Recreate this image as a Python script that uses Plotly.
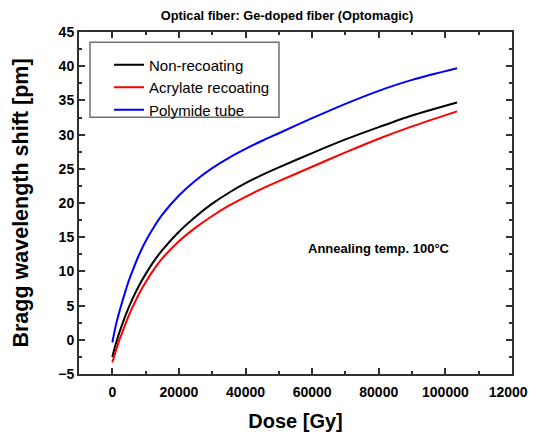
import plotly.graph_objects as go

dose = [0, 1000, 2000, 3000, 4000, 5000, 6000, 8000, 10000, 12500, 15000, 20000,
        25000, 30000, 35000, 40000, 45000, 50000, 60000, 70000, 80000, 90000, 103500]

non_recoating = [-2.5, -0.7, 0.9, 2.3, 3.6, 4.8, 5.9, 7.9, 9.6, 11.5, 13.1, 15.8,
                 18.0, 19.9, 21.5, 22.9, 24.1, 25.2, 27.3, 29.3, 31.1, 32.8, 34.7]
acrylate = [-3.3, -1.7, -0.2, 1.1, 2.4, 3.6, 4.7, 6.7, 8.4, 10.3, 11.9, 14.4,
            16.4, 18.1, 19.6, 20.9, 22.1, 23.2, 25.3, 27.4, 29.4, 31.2, 33.4]
polymide = [-0.4, 2.0, 3.9, 5.6, 7.2, 8.7, 10.0, 12.4, 14.4, 16.5, 18.3, 21.1,
            23.3, 25.1, 26.6, 27.9, 29.1, 30.2, 32.4, 34.5, 36.4, 38.0, 39.7]

series_names = ["Non-recoating", "Acrylate recoating", "Polymide tube"]
series_colors = ["#000000", "#ff0000", "#0000ff"]
series_values = [non_recoating, acrylate, polymide]

title_text = "Optical fiber: Ge-doped fiber (Optomagic)"
x_title = "Dose [Gy]"
y_title = "Bragg wavelength shift [pm]"
note_text = "Annealing temp. 100°C"

FONT = "Liberation Sans, Arial, sans-serif"

fig = go.Figure()
for name, color, vals in zip(series_names, series_colors, series_values):
    fig.add_trace(go.Scatter(x=dose, y=vals, mode="lines", name=name,
                             line=dict(color=color, width=2, shape="spline", smoothing=0.8)))

axis_common = dict(showline=True, linecolor="#303030", linewidth=2, mirror="ticks",
                   ticks="inside", ticklen=6, tickwidth=1.5, tickcolor="#303030",
                   showgrid=False, zeroline=False, automargin=False,
                   ticklabeloverflow="allow",
                   tickfont=dict(family=FONT, size=14, color="#000000", weight="bold"))

fig.update_layout(
    width=536, height=434,
    margin=dict(l=71, r=32, t=24, b=68),
    paper_bgcolor="white", plot_bgcolor="white",
    title=dict(text="<b>" + title_text + "</b>", x=0.5205, xanchor="center", y=0.9816, yanchor="middle",
               font=dict(family=FONT, size=12.8, color="#000000")),
    xaxis=dict(range=[-10000, 120000], tick0=0, dtick=20000, tickformat="d",
               ticklabelstandoff=4,
               minor=dict(ticks="inside", ticklen=3, dtick=10000, tickcolor="#303030", tickwidth=1.5),
               title=dict(text="<b>" + x_title + "</b>", font=dict(family=FONT, size=20, color="#000000"),
                          standoff=15),
               **axis_common),
    yaxis=dict(range=[-5, 45], tick0=0, dtick=5, tickformat="d",
               minor=dict(ticks="inside", ticklen=3, dtick=2.5, tickcolor="#303030", tickwidth=1.5),
               title=dict(text="<b>" + y_title + "</b>", font=dict(family=FONT, size=21.5, color="#000000"),
                          standoff=24),
               **axis_common),
    legend=dict(x=0.0693, y=0.952, xanchor="left", yanchor="top",
                bgcolor="rgba(0,0,0,0)", borderwidth=0,
                font=dict(family=FONT, size=15, color="#000000"),
                tracegroupgap=0),
    showlegend=True,
)

fig.add_shape(type="rect", xref="paper", yref="paper",
              x0=(90 - 79) / 433, x1=(279 - 79) / 433,
              y0=1 - (117 - 31.7) / 342.3, y1=1 - (42 - 31.7) / 342.3,
              line=dict(color="#707070", width=1.5), fillcolor="rgba(0,0,0,0)")

fig.add_annotation(x=80000, y=13.4, xref="x", yref="y", text="<b>" + note_text + "</b>",
                   showarrow=False, font=dict(family=FONT, size=13, color="#000000"))

fig.write_html("out.html")
